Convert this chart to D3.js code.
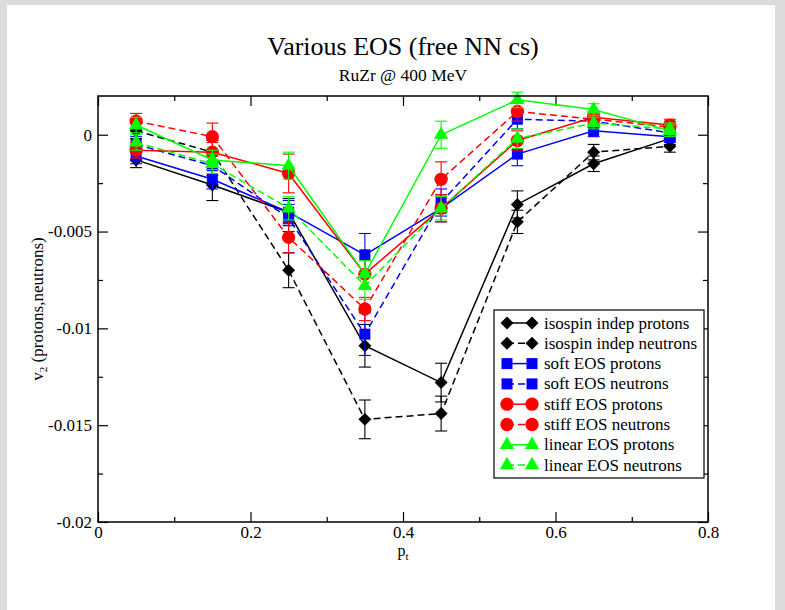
<!DOCTYPE html>
<html>
<head>
<meta charset="utf-8">
<script src="https://cdn.jsdelivr.net/npm/d3@7"></script>
<style>
  body { margin: 0; background: #dcdcdc; }
  svg { display: block; }
  text { font-family: "Liberation Serif", "DejaVu Serif", serif; fill: #000; }
</style>
</head>
<body>
<div id="chart"></div>
<script>
// v2 vs pt, RuZr @ 400 MeV, four EOS choices, protons and neutrons
const pt = [0.05, 0.15, 0.25, 0.35, 0.45, 0.55, 0.65, 0.75];

const isoProtons   = [-0.0013, -0.0026, -0.0040, -0.0109, -0.0128, -0.0036, -0.0015, -0.0002];
const isoProtErr   = [0.0004, 0.0008, 0.0007, 0.0011, 0.0010, 0.0007, 0.0004, 0.0003];
const isoNeutrons  = [0.0002, -0.0009, -0.0070, -0.0147, -0.0144, -0.0045, -0.0009, -0.0006];
const isoNeutErr   = [0.0004, 0.0006, 0.0009, 0.0010, 0.0009, 0.0006, 0.0004, 0.0003];

const softProtons  = [-0.0011, -0.0023, -0.0040, -0.0062, -0.0038, -0.0010, 0.0002, -0.0001];
const softProtErr  = [0.0004, 0.0005, 0.0006, 0.0011, 0.0007, 0.0006, 0.0003, 0.0003];
const softNeutrons = [-0.0005, -0.0016, -0.0043, -0.0103, -0.0035, 0.0008, 0.0007, 0.0001];
const softNeutErr  = [0.0004, 0.0005, 0.0007, 0.0011, 0.0007, 0.0005, 0.0003, 0.0003];

const stiffProtons  = [-0.0008, -0.0009, -0.0020, -0.0072, -0.0038, -0.0003, 0.0009, 0.0005];
const stiffProtErr  = [0.0004, 0.0005, 0.0010, 0.0007, 0.0007, 0.0005, 0.0003, 0.0003];
const stiffNeutrons = [0.0007, -0.0001, -0.0053, -0.0090, -0.0023, 0.0012, 0.0008, 0.0004];
const stiffNeutErr  = [0.0004, 0.0007, 0.0008, 0.0006, 0.0009, 0.0005, 0.0003, 0.0003];

const linProtons  = [0.0005, -0.0013, -0.0016, -0.0072, 0.0000, 0.0018, 0.0013, 0.0002];
const linProtErr  = [0.0004, 0.0005, 0.0007, 0.0007, 0.0007, 0.0004, 0.0003, 0.0003];
const linNeutrons = [-0.0004, -0.0015, -0.0038, -0.0078, -0.0038, -0.0002, 0.0006, 0.0003];
const linNeutErr  = [0.0004, 0.0005, 0.0006, 0.0007, 0.0006, 0.0005, 0.0003, 0.0003];

const xMajor = [0, 0.2, 0.4, 0.6, 0.8];
const xMinor = [0.1, 0.3, 0.5, 0.7];
const yMajor = [0, -0.005, -0.01, -0.015, -0.02];
const yMinor = [-0.0025, -0.0075, -0.0125, -0.0175];

const series = [
  {name: "isospin indep protons",  v: isoProtons,   e: isoProtErr,   color: "#000000", shape: "diamond",  dashed: false},
  {name: "isospin indep neutrons", v: isoNeutrons,  e: isoNeutErr,   color: "#000000", shape: "diamond",  dashed: true},
  {name: "soft EOS protons",       v: softProtons,  e: softProtErr,  color: "#0000ff", shape: "square",   dashed: false},
  {name: "soft EOS neutrons",      v: softNeutrons, e: softNeutErr,  color: "#0000ff", shape: "square",   dashed: true},
  {name: "stiff EOS protons",      v: stiffProtons, e: stiffProtErr, color: "#ff0000", shape: "circle",   dashed: false},
  {name: "stiff EOS neutrons",     v: stiffNeutrons,e: stiffNeutErr, color: "#ff0000", shape: "circle",   dashed: true},
  {name: "linear EOS protons",     v: linProtons,   e: linProtErr,   color: "#00ff00", shape: "triangle", dashed: false},
  {name: "linear EOS neutrons",    v: linNeutrons,  e: linNeutErr,   color: "#00ff00", shape: "triangle", dashed: true}
];

const width = 785, height = 610;
const margin = {top: 96, right: 77, bottom: 88, left: 98};
const pw = width - margin.left - margin.right,
      ph = height - margin.top - margin.bottom;

const svg = d3.select("#chart").append("svg")
  .attr("width", width)
  .attr("height", height);

// page: grey surround with white sheet
svg.append("rect").attr("width", width).attr("height", height).attr("fill", "#dcdcdc");
svg.append("rect").attr("x", 7).attr("y", 5).attr("width", 768).attr("height", height - 5).attr("fill", "#ffffff");

const x = d3.scaleLinear().domain([0, 0.8]).range([margin.left, margin.left + pw]);
const y = d3.scaleLinear().domain([-0.02, 0.002]).range([margin.top + ph, margin.top]);

// titles
svg.append("text")
  .attr("x", x(0.4)).attr("y", 55)
  .attr("text-anchor", "middle")
  .style("font-size", "26px")
  .text("Various EOS (free NN cs)");
svg.append("text")
  .attr("x", x(0.4)).attr("y", 81)
  .attr("text-anchor", "middle")
  .style("font-size", "17.5px")
  .text("RuZr @ 400 MeV");

// axes, ticks pointing inward on all four sides
const fmt = d => String(d);
function styleAxis(g) {
  g.select(".domain").remove();
  g.selectAll("line").attr("stroke", "#000").attr("stroke-width", 1.2);
  g.selectAll("text").style("font-size", "17px").style("font-family", "Liberation Serif, serif").attr("fill", "#000");
}
svg.append("g").attr("transform", `translate(0,${y(-0.02)})`)
  .call(d3.axisBottom(x).tickValues(xMajor).tickFormat(fmt).tickSize(-10).tickPadding(4)).call(styleAxis);
svg.append("g").attr("transform", `translate(0,${y(-0.02)})`)
  .call(d3.axisBottom(x).tickValues(xMinor).tickFormat("").tickSize(-5)).call(styleAxis);
svg.append("g").attr("transform", `translate(0,${y(0.002)})`)
  .call(d3.axisTop(x).tickValues(xMajor).tickFormat("").tickSize(-10)).call(styleAxis);
svg.append("g").attr("transform", `translate(0,${y(0.002)})`)
  .call(d3.axisTop(x).tickValues(xMinor).tickFormat("").tickSize(-5)).call(styleAxis);
svg.append("g").attr("transform", `translate(${x(0)},0)`)
  .call(d3.axisLeft(y).tickValues(yMajor).tickFormat(fmt).tickSize(-10).tickPadding(6)).call(styleAxis);
svg.append("g").attr("transform", `translate(${x(0)},0)`)
  .call(d3.axisLeft(y).tickValues(yMinor).tickFormat("").tickSize(-5)).call(styleAxis);
svg.append("g").attr("transform", `translate(${x(0.8)},0)`)
  .call(d3.axisRight(y).tickValues(yMajor).tickFormat("").tickSize(-10)).call(styleAxis);
svg.append("g").attr("transform", `translate(${x(0.8)},0)`)
  .call(d3.axisRight(y).tickValues(yMinor).tickFormat("").tickSize(-5)).call(styleAxis);

// axis labels
const xl = svg.append("text")
  .attr("x", x(0.4)).attr("y", 556)
  .attr("text-anchor", "middle")
  .style("font-size", "16px");
xl.append("tspan").text("p");
xl.append("tspan").attr("dy", 4).style("font-size", "11px").text("t");

const yl = svg.append("text")
  .attr("transform", `translate(43,${(y(0.002) + y(-0.02)) / 2}) rotate(-90)`)
  .attr("text-anchor", "middle")
  .style("font-size", "17px");
yl.append("tspan").text("v");
yl.append("tspan").attr("dy", 4).style("font-size", "11px").text("2");
yl.append("tspan").attr("dy", -4).text(" (protons,neutrons)");

const symbols = {
  diamond:  d3.symbol().type(d3.symbolSquare).size(84),
  square:   d3.symbol().type(d3.symbolSquare).size(121),
  circle:   d3.symbol().type(d3.symbolCircle).size(138),
  triangle: d3.symbol().type(d3.symbolTriangle).size(88)
};
function placeMarker(sel, s) {
  sel.append("path")
    .attr("d", symbols[s.shape]())
    .attr("fill", s.color)
    .attr("transform", d => `translate(${d[0]},${d[1]})` + (s.shape === "diamond" ? " rotate(45)" : ""));
}

const line = d3.line().x(d => x(d.p)).y(d => y(d.v));
const plot = svg.append("g");

series.forEach(s => {
  const pts = pt.map((p, i) => ({p: p, v: s.v[i], e: s.e[i]}));
  const g = plot.append("g");

  // error bars with caps
  const eb = g.selectAll(".err").data(pts).enter().append("g")
    .attr("stroke", s.color).attr("stroke-width", 1.1);
  eb.append("line")
    .attr("x1", d => x(d.p)).attr("x2", d => x(d.p))
    .attr("y1", d => y(d.v - d.e)).attr("y2", d => y(d.v + d.e));
  eb.append("line")
    .attr("x1", d => x(d.p) - 6).attr("x2", d => x(d.p) + 6)
    .attr("y1", d => y(d.v + d.e)).attr("y2", d => y(d.v + d.e));
  eb.append("line")
    .attr("x1", d => x(d.p) - 6).attr("x2", d => x(d.p) + 6)
    .attr("y1", d => y(d.v - d.e)).attr("y2", d => y(d.v - d.e));

  g.append("path")
    .datum(pts)
    .attr("d", line)
    .attr("fill", "none")
    .attr("stroke", s.color)
    .attr("stroke-width", 1.5)
    .attr("stroke-dasharray", s.dashed ? "7,4" : null);

  placeMarker(g.selectAll(".mk").data(pts.map(d => [x(d.p), y(d.v)])).enter(), s);
});

// legend
const lx = 494, ly = 310, rowH = 20.3;
const legend = svg.append("g");
legend.append("rect")
  .attr("x", lx).attr("y", ly).attr("width", 210).attr("height", 168)
  .attr("fill", "#fff").attr("stroke", "#000").attr("stroke-width", 1.2);
series.forEach((s, i) => {
  const cy = ly + 13 + i * rowH;
  const row = legend.append("g");
  row.append("line")
    .attr("x1", lx + 13).attr("x2", lx + 38)
    .attr("y1", cy).attr("y2", cy)
    .attr("stroke", s.color).attr("stroke-width", 1.5)
    .attr("stroke-dasharray", s.dashed ? "7,4" : null);
  placeMarker(row.selectAll(".m").data([[lx + 13, cy], [lx + 38, cy]]).enter(), s);
  row.append("text")
    .attr("x", lx + 50).attr("y", cy + 5.5)
    .style("font-size", "17px")
    .text(s.name);
});

// frame
svg.append("rect")
  .attr("x", x(0)).attr("y", y(0.002))
  .attr("width", pw).attr("height", ph)
  .attr("fill", "none").attr("stroke", "#000").attr("stroke-width", 1.5);
</script>
</body>
</html>
